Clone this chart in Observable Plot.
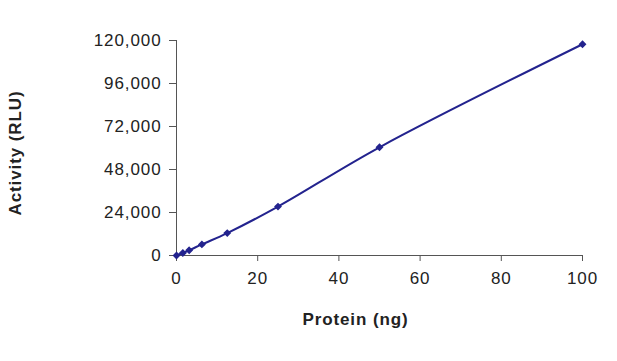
<!DOCTYPE html>
<html><head><meta charset="utf-8">
<script src="https://cdn.jsdelivr.net/npm/d3@7"></script>
<script src="https://cdn.jsdelivr.net/npm/@observablehq/plot@0.6"></script>
<style>body{margin:0;background:#fff;font-family:"Liberation Sans",Arial,sans-serif}
svg text{letter-spacing:0.9px}</style>
</head><body><div id="chart"></div>
<script>
const protein = [0, 1.5625, 3.125, 6.25, 12.5, 25, 50, 100];
const activity = [0, 1400, 2900, 6200, 12500, 27300, 60400, 117900];
const yTicks = [0, 24000, 48000, 72000, 96000, 120000];
const xTicks = [0, 20, 40, 60, 80, 100];
const xTitle = "Protein (ng)";
const yTitle = "Activity (RLU)";

const data = protein.map((p, i) => ({protein: p, activity: activity[i]}));
const navy = "#23238e";
const axisColor = "#555";

const chart = Plot.plot({
  width: 617, height: 361,
  marginLeft: 176, marginRight: 35, marginTop: 40, marginBottom: 106,
  style: {fontFamily: "Liberation Sans, Arial, sans-serif", fontSize: "17px", color: "#222", background: "#fff"},
  x: {domain: [0, 100]},
  y: {domain: [0, 120000]},
  marks: [
    Plot.axisX({ticks: xTicks, tickSize: 6, tickPadding: 10, fontSize: 17, label: null, stroke: axisColor}),
    Plot.axisY({ticks: yTicks, tickFormat: d3.format(","), tickSize: 7, tickPadding: 8, fontSize: 17, label: null, stroke: axisColor}),
    Plot.ruleX([0], {stroke: axisColor}),
    Plot.ruleY([0], {stroke: axisColor}),
    Plot.line(data, {x: "protein", y: "activity", stroke: navy, strokeWidth: 2, curve: "catmull-rom"}),
    Plot.dot(data, {x: "protein", y: "activity", symbol: "diamond2", r: 2.6, fill: navy, stroke: navy}),
    Plot.text([yTitle], {frameAnchor: "left", textAnchor: "middle", dx: -161, dy: 5, rotate: -90, fontWeight: "bold", fontSize: 17, fill: "#222"}),
    Plot.text([xTitle], {frameAnchor: "bottom", textAnchor: "middle", dx: -24, dy: 69, fontWeight: "bold", fontSize: 17, fill: "#222"})
  ]
});
document.getElementById("chart").appendChild(chart);
</script>
</body></html>
